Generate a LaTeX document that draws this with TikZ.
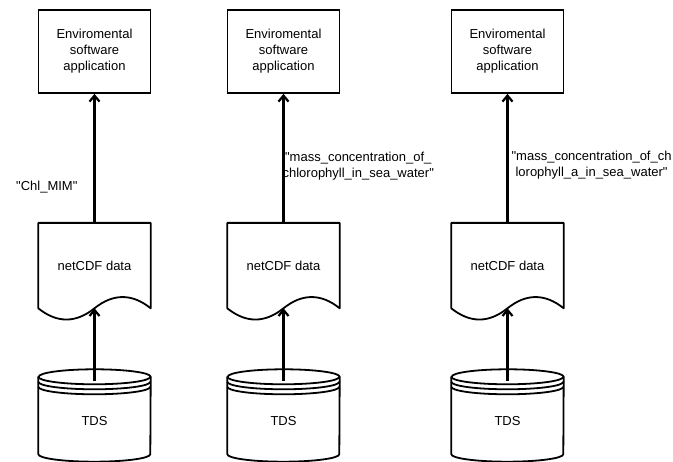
\documentclass[tikz,border=0pt]{standalone}
\usepackage{fontspec}
\setmainfont{Liberation Sans}
\newfontfamily\plainfont{Liberation Sans}
\usepackage{tikz}
\usetikzlibrary{positioning}
\usetikzlibrary{arrows.meta}
\tikzstyle{appbox}=[rectangle, sharp corners, line width=1.8pt, draw=black,
  minimum width=112pt, minimum height=83pt, inner sep=0pt, align=center]
\tikzstyle{docbox}=[rectangle, minimum width=112pt, minimum height=85pt,
  inner sep=0pt]
\tikzstyle{dbbox}=[rectangle, minimum width=112pt, minimum height=80pt,
  inner sep=0pt]
\tikzstyle{shapeline}=[line width=1.8pt, draw=black, line join=round]
\tikzstyle{arrflow}=[-{Straight Barb[length=6pt,width=10pt]}, line width=2.2pt,
  draw=black]
\tikzstyle{flowlabel}=[align=center, inner sep=0pt]
\newcommand{\qt}{{\plainfont"}}
% document outline with wavy bottom
\newcommand{\docshape}[1]{%
  \draw[shapeline] (#1.south west) -- (#1.north west) -- (#1.north east)
    -- (#1.south east)
    .. controls ([shift={(-18.7pt,15pt)}]#1.south east)
       and ([shift={(18.7pt,15pt)}]#1.south) .. (#1.south)
    .. controls ([shift={(-18.7pt,-15pt)}]#1.south)
       and ([shift={(18.7pt,-15pt)}]#1.south west) .. (#1.south west) -- cycle;}
% data store cylinder
\newcommand{\dbshape}[1]{%
  \draw[shapeline] ([yshift=4.5pt]#1.north west) -- ([yshift=7.5pt]#1.south west)
    arc[start angle=180, end angle=360, x radius=56pt, y radius=7.5pt]
    -- ([yshift=4.5pt]#1.north east)
    arc[start angle=0, end angle=180, x radius=56pt, y radius=7.5pt] -- cycle;
  \foreach \dy in {4.5,-0.5,-5.5}
    \draw[shapeline] ([yshift=\dy pt]#1.north west)
      arc[start angle=180, end angle=360, x radius=56pt, y radius=7.5pt];}

\begin{document}
\begin{tikzpicture}[x=1pt, y=1pt, font=\fontsize{13}{16}\selectfont]
\useasboundingbox (0,0) rectangle (673,462);

\node[appbox] (app1) at (94.5,410.5) {Enviromental\\software\\application};
\node[docbox, below=129pt of app1] (doc1) {netCDF data};
\node[dbbox, below=73pt of doc1] (db1) {TDS};
\docshape{doc1}
\dbshape{db1}
\draw[arrflow] (db1.north) -- (doc1.south);
\draw[arrflow] (doc1) -- node[flowlabel, pos=0.28, anchor=east, xshift=-16pt]
  (lab1) {\qt Chl\_MIM\qt} (app1);

\node[appbox] (app2) at (283.5,410.5) {Enviromental\\software\\application};
\node[docbox, below=129pt of app2] (doc2) {netCDF data};
\node[dbbox, below=73pt of doc2] (db2) {TDS};
\docshape{doc2}
\dbshape{db2}
\draw[arrflow] (db2.north) -- (doc2.south);
\draw[arrflow] (doc2) -- node[flowlabel, pos=0.44, anchor=west, xshift=-2pt]
  (lab2) {\qt mass\_concentration\_of\_\\chlorophyll\_in\_sea\_water\qt} (app2);

\node[appbox] (app3) at (507.5,410.5) {Enviromental\\software\\application};
\node[docbox, below=129pt of app3] (doc3) {netCDF data};
\node[dbbox, below=73pt of doc3] (db3) {TDS};
\docshape{doc3}
\dbshape{db3}
\draw[arrflow] (db3.north) -- (doc3.south);
\draw[arrflow] (doc3) -- node[flowlabel, pos=0.45, anchor=west, xshift=3pt]
  (lab3) {\qt mass\_concentration\_of\_ch\\lorophyll\_a\_in\_sea\_water\qt} (app3);

\end{tikzpicture}
\end{document}
